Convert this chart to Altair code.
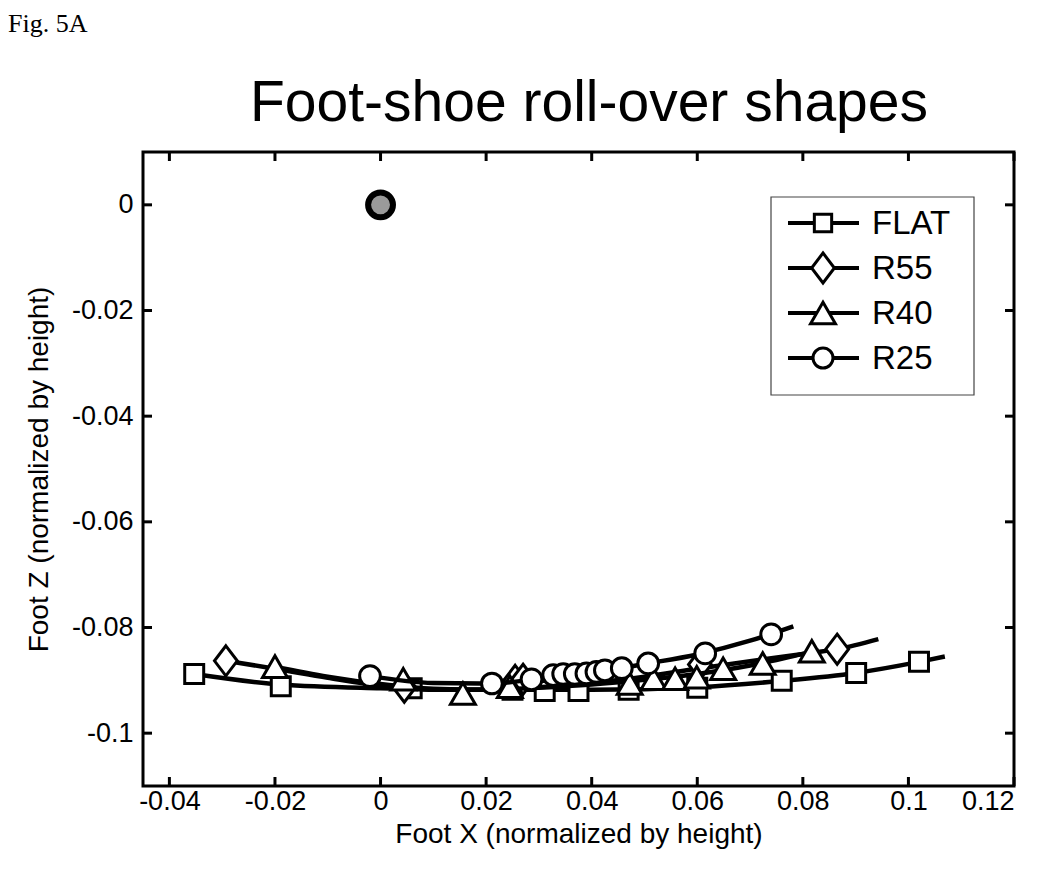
import altair as alt
import pandas as pd

# ---------------- data ----------------
flat_mx = [-0.0353, -0.0189, 0.0059, 0.0250, 0.0311, 0.0375, 0.0470, 0.0600, 0.0760, 0.0901, 0.1020]
flat_my = [-0.0888, -0.0911, -0.0915, -0.0918, -0.0920, -0.0920, -0.0918, -0.0914, -0.0901, -0.0886, -0.0865]
flat_cx = [-0.0353, -0.0189, 0.0, 0.02, 0.04, 0.06, 0.076, 0.090, 0.102, 0.1069]
flat_cy = [-0.0888, -0.0908, -0.0915, -0.0918, -0.0918, -0.0913, -0.0901, -0.0886, -0.0865, -0.0855]

r55_mx = [-0.0293, 0.0045, 0.0255, 0.0270, 0.0605, 0.0865]
r55_my = [-0.0863, -0.0913, -0.0900, -0.0898, -0.0870, -0.0841]
r55_cx = [-0.0293, -0.02, -0.01, 0.0, 0.01, 0.02, 0.03, 0.04, 0.05, 0.06, 0.07, 0.08, 0.0865, 0.0943]
r55_cy = [-0.0863, -0.0878, -0.0895, -0.0910, -0.0918, -0.0918, -0.0913, -0.0905, -0.0893, -0.0878, -0.0864, -0.0850, -0.0841, -0.0822]

r40_mx = [-0.0200, 0.0043, 0.0156, 0.0245, 0.0472, 0.0517, 0.0558, 0.0599, 0.0649, 0.0724, 0.0817]
r40_my = [-0.0874, -0.0898, -0.0925, -0.0912, -0.0906, -0.0897, -0.0897, -0.0894, -0.0878, -0.0868, -0.0845]
r40_cx = [-0.0200, -0.01, 0.0, 0.01, 0.02, 0.03, 0.04, 0.05, 0.06, 0.07, 0.08, 0.083]
r40_cy = [-0.0874, -0.0893, -0.0907, -0.0916, -0.0918, -0.0914, -0.0908, -0.0899, -0.0888, -0.0872, -0.0850, -0.0843]

r25_mx = [-0.0020, 0.0211, 0.0286, 0.0327, 0.0346, 0.0368, 0.0390, 0.0409, 0.0425, 0.0457, 0.0507, 0.0615, 0.0740]
r25_my = [-0.0892, -0.0906, -0.0898, -0.0890, -0.0888, -0.0888, -0.0887, -0.0884, -0.0881, -0.0877, -0.0868, -0.0849, -0.0813]
r25_cx = [-0.0020, 0.01, 0.0211, 0.03, 0.04, 0.05, 0.06, 0.07, 0.0782]
r25_cy = [-0.0892, -0.0905, -0.0906, -0.0897, -0.0886, -0.0869, -0.0851, -0.0825, -0.0798]

origin_x = [0.0]
origin_y = [0.0]

series_names = ["FLAT", "R55", "R40", "R25"]
x_ticks = [-0.04, -0.02, 0.0, 0.02, 0.04, 0.06, 0.08, 0.10, 0.12]
y_ticks = [0.0, -0.02, -0.04, -0.06, -0.08, -0.10]

# ---------------- styling ----------------
W, H = 871, 634
FONT = "Liberation Sans"
DIAMOND = "M0,-1 L0.76,0 L0,1 L-0.76,0 Z"
shapes = {"FLAT": ("square", 360), "R55": (DIAMOND, 900), "R40": ("triangle-up", 620), "R25": ("circle", 430)}

xs = alt.Scale(domain=[-0.045, 0.12], nice=False, zero=False)
ys = alt.Scale(domain=[-0.11, 0.01], nice=False, zero=False)
lab = "replace(format(datum.value, '~g'), '\u2212', '-')"
x_axis = alt.Axis(title="Foot X (normalized by height)", values=x_ticks, labelExpr=lab,
                  ticks=False, domain=False, grid=False, labelFontSize=27, titleFontSize=28,
                  labelFont=FONT, titleFont=FONT, labelColor="black", titleColor="black",
                  titleFontWeight="normal", labelPadding=2, titlePadding=6)
y_axis = alt.Axis(title="Foot Z (normalized by height)", values=y_ticks, labelExpr=lab,
                  ticks=False, domain=False, grid=False, labelFontSize=27, titleFontSize=28,
                  labelFont=FONT, titleFont=FONT, labelColor="black", titleColor="black",
                  titleFontWeight="normal", labelPadding=10, titlePadding=18)

def X(f="x"):
    return alt.X(f"{f}:Q", scale=xs, axis=x_axis)

def Y(f="y"):
    return alt.Y(f"{f}:Q", scale=ys, axis=y_axis)

layers = []

# inward ticks on all four sides
xt = pd.DataFrame({"x": x_ticks})
yt = pd.DataFrame({"y": y_ticks})
tk = dict(color="black", strokeWidth=3)
layers.append(alt.Chart(xt).mark_rule(**tk).encode(x=X(), y=alt.value(H), y2=alt.value(H - 9)))
layers.append(alt.Chart(xt).mark_rule(**tk).encode(x=X(), y=alt.value(0), y2=alt.value(9)))
layers.append(alt.Chart(yt).mark_rule(**tk).encode(y=Y(), x=alt.value(0), x2=alt.value(9)))
layers.append(alt.Chart(yt).mark_rule(**tk).encode(y=Y(), x=alt.value(W), x2=alt.value(W - 9)))

data = {
    "FLAT": (flat_mx, flat_my, flat_cx, flat_cy),
    "R55": (r55_mx, r55_my, r55_cx, r55_cy),
    "R40": (r40_mx, r40_my, r40_cx, r40_cy),
    "R25": (r25_mx, r25_my, r25_cx, r25_cy),
}
for name in series_names:
    mx, my, cx, cy = data[name]
    shp, sz = shapes[name]
    cdf = pd.DataFrame({"x": cx, "y": cy})
    mdf = pd.DataFrame({"x": mx, "y": my})
    layers.append(alt.Chart(cdf).mark_line(color="black", strokeWidth=4.5, interpolate="monotone").encode(x=X(), y=Y()))
    layers.append(alt.Chart(mdf).mark_point(shape=shp, size=sz, filled=False, fill="white", fillOpacity=1,
                                             stroke="black", strokeWidth=3, opacity=1).encode(x=X(), y=Y()))

# grey origin marker
odf = pd.DataFrame({"x": origin_x, "y": origin_y})
layers.append(alt.Chart(odf).mark_point(shape="circle", size=620, fill="#9a9a9a", fillOpacity=1, stroke="black",
                                        strokeWidth=6, opacity=1).encode(x=X(), y=Y()))

# legend box
LX0, LX1, LY0, LY1 = 628, 831, 45, 243
dummy = pd.DataFrame({"a": [0]})
layers.append(alt.Chart(dummy).mark_rect(fill="white", stroke="#444444", strokeWidth=1.2).encode(
    x=alt.value(LX0), x2=alt.value(LX1), y=alt.value(LY0), y2=alt.value(LY1)))
leg_sizes = {"FLAT": 300, "R55": 900, "R40": 620, "R25": 400}
for i, name in enumerate(series_names):
    ly = 71 + 45 * i
    shp, _ = shapes[name]
    layers.append(alt.Chart(dummy).mark_rule(color="black", strokeWidth=4).encode(
        x=alt.value(645), x2=alt.value(716), y=alt.value(ly)))
    layers.append(alt.Chart(dummy).mark_point(shape=shp, size=leg_sizes[name], fill="white", fillOpacity=1,
                                              stroke="black", strokeWidth=3, opacity=1).encode(
        x=alt.value(680), y=alt.value(ly)))
    layers.append(alt.Chart(pd.DataFrame({"t": [name]})).mark_text(
        font=FONT, fontSize=33, align="left", baseline="middle", color="black").encode(
        x=alt.value(729), y=alt.value(ly + 1), text="t:N"))

# chart title and figure label
layers.append(alt.Chart(pd.DataFrame({"t": ["Foot-shoe roll-over shapes"]})).mark_text(
    font=FONT, fontSize=57, align="center", baseline="alphabetic", color="black").encode(
    x=alt.value(446), y=alt.value(-31), text="t:N"))
layers.append(alt.Chart(pd.DataFrame({"t": ["Fig. 5A"]})).mark_text(
    font="Liberation Serif", fontSize=26, align="left", baseline="alphabetic", color="black").encode(
    x=alt.value(-135), y=alt.value(-120), text="t:N"))

chart = alt.layer(*layers).properties(
    width=W, height=H,
    autosize=alt.AutoSizeParams(type="none"),
    padding={"left": 135, "top": 144, "right": 28, "bottom": 78},
).configure(
    background="white",
    view=alt.ViewConfig(stroke="black", strokeWidth=3),
)

chart.save("out.html", embed_options={"renderer": "svg", "actions": False})
